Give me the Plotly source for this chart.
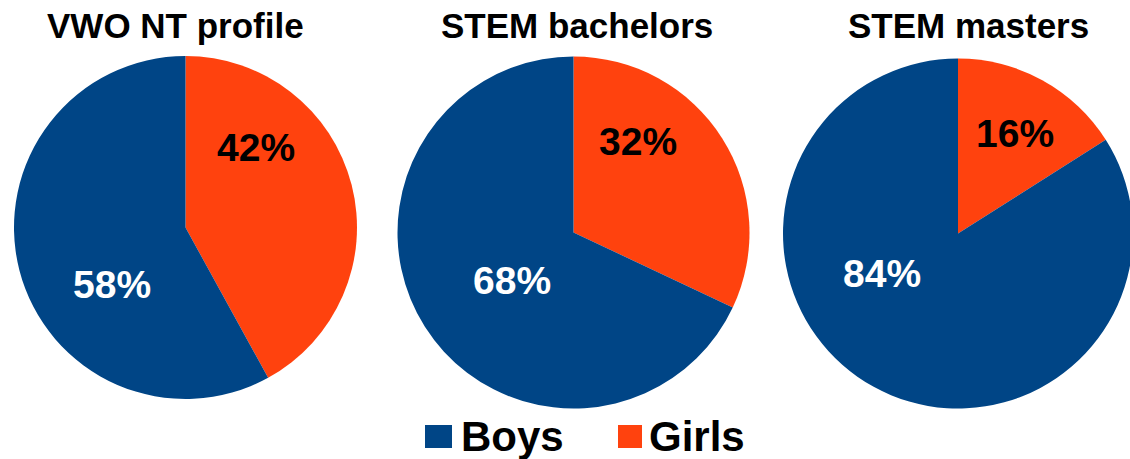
import plotly.graph_objects as go

# ---- data ----
categories = ["Boys", "Girls"]
groups = ["VWO NT profile", "STEM bachelors", "STEM masters"]
boys = [58, 68, 84]
girls = [42, 32, 16]

# ---- style ----
colors = {"Boys": "#004586", "Girls": "#ff420e"}
label_colors = {"Boys": "white", "Girls": "black"}
FONT = "Liberation Sans"

W, H = 1136, 459  # page is cropped at 1130 px, last pie runs off the edge

# pie placements in pixels: (center_x, center_y, radius)
placements = [(185.5, 227.5, 171.5), (573.5, 232.5, 176), (958, 233.5, 175)]
title_x = [175, 577, 968]
title_y = 26
# label centres in pixels: (girls, boys)
label_pos = [((256, 147), (112, 284)),
             ((638, 141), (512, 280)),
             ((1015, 133), (882, 273))]
# legend: swatch box (x0, x1) and text left edge, in pixels
legend_swatch = {"Boys": (425, 452), "Girls": (618, 642)}
legend_text_x = {"Boys": 459, "Girls": 647}
legend_sw_y = (425, 448)
legend_y = 436


def px(x):
    return x / W


def py(y):
    return (H - y) / H


fig = go.Figure()
order = ["Girls", "Boys"]  # girls slice starts at 12 o'clock, clockwise
for i, g in enumerate(groups):
    vals = {"Boys": boys[i], "Girls": girls[i]}
    cx, cy, r = placements[i]
    fig.add_trace(go.Pie(
        labels=order,
        values=[vals[c] for c in order],
        name=g,
        sort=False,
        direction="clockwise",
        rotation=0,
        marker=dict(colors=[colors[c] for c in order], line=dict(width=0)),
        textinfo="none",
        domain=dict(x=[px(cx - r), px(cx + r)], y=[py(cy + r), py(cy - r)]),
        hoverinfo="label+percent",
        showlegend=False,
    ))
    fig.add_annotation(
        x=px(title_x[i]), y=py(title_y), xref="paper", yref="paper",
        text=g, showarrow=False,
        xanchor="center", yanchor="middle",
        font=dict(family=FONT, size=35, color="black", weight="bold"),
    )
    for c, pos in zip(["Girls", "Boys"], label_pos[i]):
        fig.add_annotation(
            x=px(pos[0]), y=py(pos[1]), xref="paper", yref="paper",
            text=f"{vals[c]}%", showarrow=False,
            xanchor="center", yanchor="middle",
            font=dict(family=FONT, size=39, color=label_colors[c], weight="bold"),
        )

for c in categories:
    x0, x1 = legend_swatch[c]
    fig.add_shape(
        type="rect", xref="paper", yref="paper",
        x0=px(x0), x1=px(x1), y0=py(legend_sw_y[1]), y1=py(legend_sw_y[0]),
        fillcolor=colors[c], line=dict(width=0),
    )
    fig.add_annotation(
        x=px(legend_text_x[c]), y=py(legend_y), xref="paper", yref="paper",
        text=c, showarrow=False, xanchor="left", yanchor="middle",
        font=dict(family=FONT, size=42, color="black", weight="bold"),
    )

fig.update_layout(
    width=W, height=H,
    margin=dict(l=0, r=0, t=0, b=0),
    paper_bgcolor="white", plot_bgcolor="white",
    showlegend=False,
)

fig.write_html(
    "out.html",
    config={"displayModeBar": False},
    post_script="document.body.style.margin='0';document.body.style.overflow='hidden';",
)
